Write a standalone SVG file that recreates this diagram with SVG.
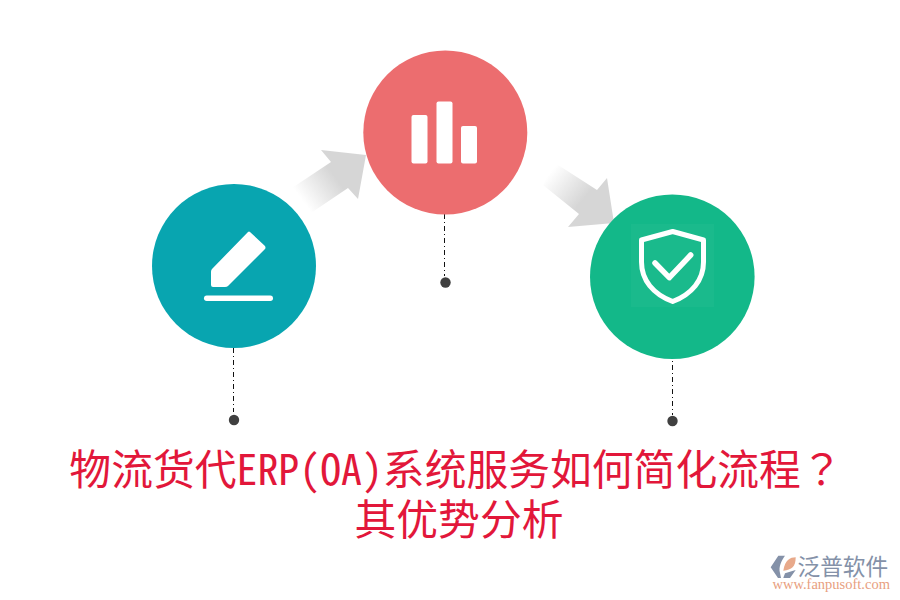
<svg xmlns="http://www.w3.org/2000/svg" width="900" height="600" viewBox="0 0 900 600">
<style>
.lead{stroke:#111;stroke-width:1;fill:none;stroke-dasharray:5 3 1 3}
.dot{fill:#404040}
.ico{fill:#fff}
.title{font-family:"Noto Sans Mono CJK SC","Noto Sans CJK SC",sans-serif;font-size:41.8px;fill:#e2173a;text-anchor:middle}
.q{font-family:"Noto Sans Mono CJK TC","Noto Sans CJK TC",sans-serif}
</style>
<defs>
<linearGradient id="g1" gradientUnits="userSpaceOnUse" x1="302" y1="200" x2="356" y2="160"><stop offset="0" stop-color="#d6d6d6" stop-opacity="0"/><stop offset="0.6" stop-color="#d6d6d6"/></linearGradient>
<linearGradient id="g2" gradientUnits="userSpaceOnUse" x1="549" y1="174" x2="604" y2="219"><stop offset="0" stop-color="#d6d6d6" stop-opacity="0"/><stop offset="0.6" stop-color="#d6d6d6"/></linearGradient>
</defs>
<rect width="900" height="600" fill="#fff"/>
<g id="connectors">
<path fill="url(#g1)" d="M292 188L331 162L321 150L366 155L358 199L348 188L308 215Z"/>
<path fill="url(#g2)" d="M555 163L597 190L607 178L614 223L568 227L579 214L543 185Z"/>
<path class="lead" d="M233.500 348V412"/>
<path class="lead" d="M444.500 214V276"/>
<path class="lead" d="M672.500 353V415"/>
</g>
<g id="node1"><circle cx="234" cy="266" r="82" fill="#08a5b0"/>
<path class="ico" d="M250 232L265 246Q266 248 265 249L228 286Q227 287 225 287H213Q211 287 211 285V272Q211 270 212 269L248 232Q249 231 250 232Z"/>
<rect class="ico" x="204" y="295.500" width="69" height="5.500" rx="2.700"/>
<circle class="dot" cx="234" cy="420" r="5.200"/></g>
<g id="node2"><circle cx="445.300" cy="132.500" r="82" fill="#ec6d6f"/>
<rect class="ico" x="411.500" y="115" width="16" height="48.500" rx="2"/>
<rect class="ico" x="436.500" y="101.500" width="16" height="62" rx="2"/>
<rect class="ico" x="461" y="126" width="16" height="37.500" rx="2"/>
<circle class="dot" cx="445.500" cy="282.500" r="5.200"/></g>
<g id="node3"><circle cx="672.300" cy="276.700" r="82.300" fill="#13b889"/>
<rect x="631" y="224" width="83" height="83" fill="#fff" opacity="0.03"/>
<path d="M672.700 231.500L703.500 240V262C703.500 280 692 294 672.700 301.500C653 294 641.500 280 641.500 262V240Z" fill="none" stroke="#fff" stroke-width="5" stroke-linejoin="round"/>
<path d="M655 263L669.300 277.700L690.700 255" fill="none" stroke="#fff" stroke-width="5.500" stroke-linecap="round" stroke-linejoin="round"/>
<circle class="dot" cx="672.500" cy="421" r="5.200"/></g>
<g id="title"><text class="title" x="456" y="484.500">物流货代ERP(OA)系统服务如何简化流程<tspan class="q">？</tspan></text>
<text class="title" x="459" y="535">其优势分析</text></g>
<g id="logo">
<path d="M770.700 567.300L778.300 555.700H785C781.700 560 778.300 566.700 780 573L781 578H778Z" fill="#8491a8"/>
<path d="M783.300 570.700C785 560 790 557.300 795.700 557.300C795.700 566.700 791.700 570 783.300 570.700Z" fill="#e8a98a"/>
<path d="M783.300 578L785 573.300L795.700 570L790 578Z" fill="#8491a8"/>
<text x="797.500" y="575" font-family="'Noto Sans CJK SC',sans-serif" font-size="22.700" fill="#8491a8">泛普软件</text>
<text x="772.500" y="588.500" font-family="'Liberation Serif',serif" font-size="14.500" fill="#e8a080">www.fanpusoft.com</text>
</g>
</svg>
